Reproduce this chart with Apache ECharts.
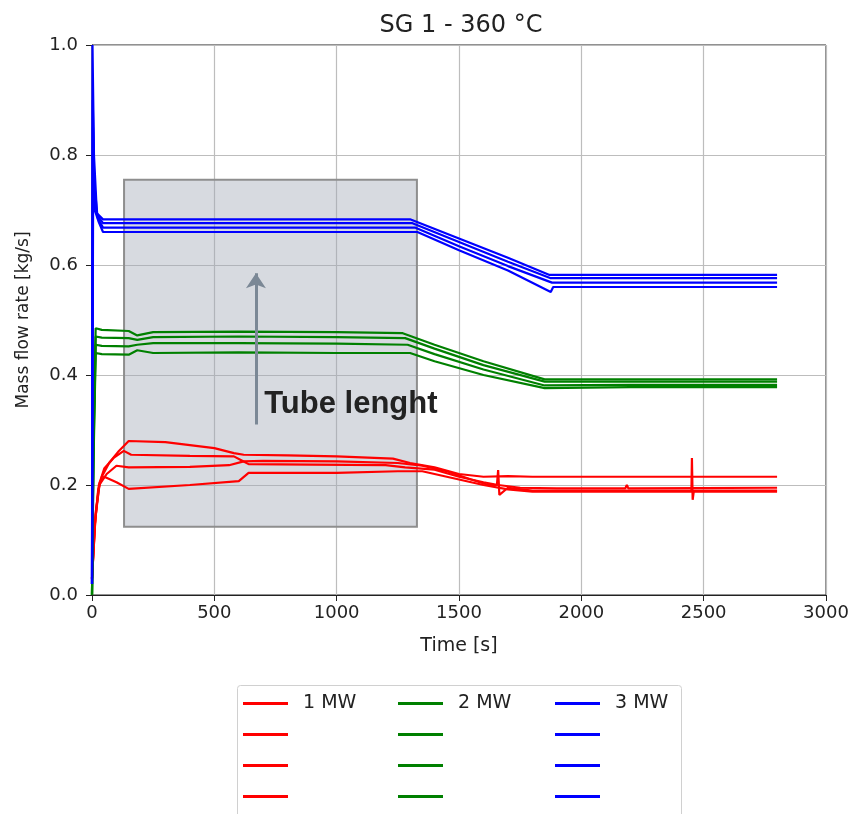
<!DOCTYPE html>
<html>
<head>
<meta charset="utf-8">
<script src="https://cdn.jsdelivr.net/npm/echarts@6/dist/echarts.min.js"></script>
<style>
  html, body { margin: 0; padding: 0; background: #fff; }
  #chart { width: 853px; height: 814px; }
</style>
</head>
<body>
<div id="chart"></div>
<script>
// x ticks and y ticks
const xTicks = [0, 500, 1000, 1500, 2000, 2500, 3000];
const yTicks = [0.0, 0.2, 0.4, 0.6, 0.8, 1.0];

// 1 MW runs [time s, mass flow kg/s]
const red1 = [[0,0.03],[10,0.12],[25,0.19],[40,0.215],[70,0.24],[110,0.262],[150,0.28],[300,0.278],[500,0.267],[580,0.258],[620,0.255],[800,0.254],[1000,0.252],[1230,0.248],[1300,0.24],[1400,0.232],[1500,0.22],[1600,0.215],[1700,0.216],[1800,0.215],[2200,0.215],[2800,0.215]];
const red2 = [[0,0.03],[12,0.13],[28,0.2],[50,0.23],[90,0.25],[130,0.262],[160,0.255],[400,0.253],[580,0.252],[610,0.245],[640,0.238],[900,0.237],[1200,0.236],[1280,0.232],[1400,0.228],[1500,0.215],[1600,0.205],[1660,0.2],[1750,0.195],[1900,0.194],[2180,0.194],[2186,0.2],[2192,0.194],[2800,0.195]];
const red3 = [[0,0.03],[14,0.14],[30,0.2],[60,0.22],[100,0.235],[150,0.232],[400,0.233],[560,0.236],[620,0.243],[700,0.244],[1000,0.243],[1250,0.24],[1350,0.235],[1450,0.225],[1550,0.21],[1620,0.2],[1655,0.2],[1660,0.227],[1665,0.182],[1700,0.195],[1800,0.19],[2450,0.19],[2452,0.249],[2455,0.173],[2460,0.19],[2800,0.19]];
const red4 = [[0,0.03],[15,0.15],[32,0.205],[50,0.215],[100,0.205],[150,0.193],[400,0.2],[600,0.207],[640,0.222],[700,0.222],[1000,0.222],[1250,0.225],[1350,0.225],[1450,0.215],[1600,0.2],[1700,0.192],[1800,0.188],[2800,0.188]];

// 2 MW runs
const green1 = [[0,0.0],[6,0.3],[15,0.485],[40,0.482],[150,0.48],[185,0.472],[250,0.478],[600,0.479],[1000,0.478],[1270,0.476],[1400,0.455],[1600,0.425],[1850,0.392],[2200,0.392],[2800,0.392]];
const green2 = [[0,0.0],[6,0.28],[15,0.47],[40,0.468],[150,0.467],[185,0.464],[250,0.469],[600,0.47],[1000,0.469],[1280,0.467],[1400,0.448],[1600,0.418],[1850,0.388],[2200,0.388],[2800,0.388]];
const green3 = [[0,0.0],[6,0.26],[15,0.455],[40,0.453],[150,0.452],[185,0.455],[250,0.458],[600,0.458],[1000,0.457],[1290,0.455],[1400,0.438],[1600,0.41],[1850,0.381],[2200,0.382],[2800,0.382]];
const green4 = [[0,0.0],[6,0.24],[15,0.44],[40,0.438],[150,0.437],[185,0.445],[250,0.44],[600,0.441],[1000,0.44],[1300,0.44],[1400,0.425],[1600,0.4],[1850,0.376],[2200,0.378],[2800,0.378]];

// 3 MW runs
const blue1 = [[0,0.02],[2,1.0],[8,0.8],[20,0.694],[45,0.683],[400,0.683],[800,0.683],[1300,0.683],[1500,0.648],[1700,0.613],[1870,0.582],[2200,0.582],[2800,0.582]];
const blue2 = [[0,0.02],[3,0.9],[9,0.75],[22,0.69],[45,0.676],[400,0.676],[800,0.676],[1310,0.676],[1500,0.642],[1700,0.606],[1875,0.576],[2200,0.576],[2800,0.576]];
const blue3 = [[0,0.02],[4,0.85],[10,0.72],[24,0.685],[45,0.668],[400,0.668],[800,0.668],[1320,0.668],[1500,0.634],[1700,0.598],[1880,0.568],[2200,0.568],[2800,0.568]];
const blue4 = [[0,0.02],[5,0.8],[11,0.7],[26,0.68],[45,0.66],[400,0.66],[800,0.66],[1330,0.66],[1500,0.627],[1700,0.59],[1875,0.551],[1885,0.56],[2200,0.56],[2800,0.56]];

// annotation box and arrow (data coords)
const boxCorners = [[131, 0.755], [1328, 0.124]];
const arrowEnds = [[670, 0.31], [670, 0.585]];
const noteAt = [1058, 0.347];

const FONT = 'DejaVu Sans';
const runs = [
  ['1 MW', '#ff0000', [red1, red2, red3, red4]],
  ['2 MW', '#008000', [green1, green2, green3, green4]],
  ['3 MW', '#0000ff', [blue1, blue2, blue3, blue4]]
];

let series = [];
let legends = [];
const legendLeft = [243, 398, 555];
runs.forEach(function (g, gi) {
  let names = [];
  g[2].forEach(function (d, k) {
    let name = k === 0 ? g[0] : g[0] + ' #' + (k + 1);
    names.push(name);
    series.push({
      name: name,
      type: 'line',
      data: d,
      showSymbol: false,
      symbol: 'none',
      lineStyle: { color: g[1], width: 2.2 },
      itemStyle: { color: g[1] },
      z: 3 + gi
    });
  });
  legends.push({
    orient: 'vertical',
    left: legendLeft[gi],
    top: 688,
    padding: 0,
    data: names,
    icon: 'rect',
    itemWidth: 45,
    itemHeight: 3,
    itemGap: 0,
    selectedMode: false,
    formatter: function (n) { return n.indexOf('#') >= 0 ? '\u00a0' : n; },
    textStyle: { fontFamily: FONT, fontSize: 19, color: '#222', lineHeight: 31, height: 31, padding: [0, 0, 0, 10] }
  });
});

// box, arrow and note hang on a helper series
series.push({
  name: 'note',
  type: 'line',
  data: [],
  z: 2,
  markArea: {
    silent: true,
    itemStyle: { color: 'rgba(160,168,182,0.42)', borderColor: '#8e8e8e', borderWidth: 2 },
    data: [[{ coord: boxCorners[0] }, { coord: boxCorners[1] }]]
  },
  markLine: {
    silent: true,
    symbol: ['none', 'arrow'],
    symbolSize: 15,
    label: { show: false },
    lineStyle: { color: '#7b8896', width: 3, type: 'solid' },
    data: [[{ coord: arrowEnds[0] }, { coord: arrowEnds[1] }]]
  },
  markPoint: {
    silent: true,
    symbol: 'circle',
    symbolSize: 0,
    data: [{ coord: noteAt }],
    label: {
      show: true,
      position: 'inside',
      formatter: 'Tube lenght',
      fontFamily: 'Liberation Sans',
      fontWeight: 'bold',
      fontSize: 31,
      color: '#222'
    }
  }
});

let chart = echarts.init(document.getElementById('chart'));
chart.setOption({
  animation: false,
  backgroundColor: '#fff',
  title: {
    text: 'SG 1 - 360 °C',
    left: 456,
    textAlign: 'center',
    top: 9,
    textStyle: { fontFamily: FONT, fontSize: 24, fontWeight: 'normal', color: '#222' }
  },
  grid: { left: 92, right: 27, top: 45, bottom: 219, show: true, borderColor: '#222', borderWidth: 1, backgroundColor: 'transparent' },
  legend: legends,
  graphic: [{
    type: 'rect',
    left: 237, top: 685,
    shape: { width: 444, height: 150, r: 3 },
    style: { fill: '#fff', stroke: '#d0d0d0', lineWidth: 1 },
    z: -1
  }],
  xAxis: {
    type: 'value',
    min: xTicks[0], max: xTicks[xTicks.length - 1], interval: 500,
    name: 'Time [s]', nameLocation: 'middle', nameGap: 42,
    nameTextStyle: { fontFamily: FONT, fontSize: 19, color: '#222' },
    axisLine: { show: true, onZero: false, lineStyle: { color: '#222' } },
    axisTick: { show: true, inside: false, length: 6, lineStyle: { color: '#222' } },
    axisLabel: { fontFamily: FONT, fontSize: 18, color: '#222', margin: 9, formatter: function (v) { return String(v); } },
    splitLine: { show: true, lineStyle: { color: '#bdbdbd', width: 1.2 } }
  },
  yAxis: {
    type: 'value',
    min: yTicks[0], max: yTicks[yTicks.length - 1], interval: 0.2,
    name: 'Mass flow rate [kg/s]', nameLocation: 'middle', nameGap: 60,
    nameTextStyle: { fontFamily: FONT, fontSize: 17, color: '#222' },
    axisLine: { show: true, onZero: false, lineStyle: { color: '#222' } },
    axisTick: { show: true, inside: false, length: 6, lineStyle: { color: '#222' } },
    axisLabel: { fontFamily: FONT, fontSize: 18, color: '#222', margin: 14, formatter: function (v) { return v.toFixed(1); } },
    splitLine: { show: true, lineStyle: { color: '#bdbdbd', width: 1.2 } }
  },
  series: series
});
</script>
</body>
</html>
